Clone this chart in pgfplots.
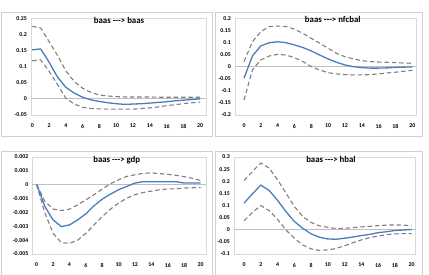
\documentclass[border=0pt]{standalone}
\usepackage{pgfplots}
\pgfplotsset{compat=1.18}
\usepackage{pgfplotstable}
\usepackage{fontspec}
\setmainfont{Carlito}

\definecolor{irfblue}{HTML}{4A7EBB}
\definecolor{bandgray}{HTML}{7F7F7F}
\definecolor{framegray}{HTML}{D9D9D9}
\definecolor{zerogray}{HTML}{BFBFBF}
\definecolor{boxgray}{HTML}{D0D0D0}

% step, response, upper band, lower band
\pgfplotstableread{
x mid up lo
0 0.152 0.225 0.118
1 0.155 0.220 0.121
2 0.114 0.178 0.086
3 0.068 0.135 0.045
4 0.036 0.087 0.002
5 0.018 0.054 -0.016
6 0.005 0.033 -0.026
7 -0.003 0.020 -0.030
8 -0.008 0.012 -0.031
9 -0.012 0.009 -0.032
10 -0.015 0.007 -0.032
11 -0.017 0.006 -0.032
12 -0.016 0.006 -0.032
13 -0.015 0.006 -0.030
14 -0.013 0.006 -0.028
15 -0.011 0.005 -0.025
16 -0.009 0.005 -0.021
17 -0.006 0.005 -0.018
18 -0.004 0.005 -0.015
19 -0.002 0.005 -0.012
20 0.000 0.005 -0.010
}\baas

\pgfplotstableread{
x mid up lo
0 -0.048 0.021 -0.138
1 0.044 0.103 -0.014
2 0.086 0.145 0.028
3 0.099 0.166 0.044
4 0.103 0.168 0.051
5 0.099 0.166 0.048
6 0.090 0.155 0.037
7 0.079 0.138 0.021
8 0.065 0.117 0.000
9 0.048 0.097 -0.014
10 0.032 0.076 -0.025
11 0.018 0.055 -0.030
12 0.007 0.041 -0.033
13 0.000 0.032 -0.034
14 -0.004 0.025 -0.034
15 -0.006 0.021 -0.033
16 -0.006 0.019 -0.030
17 -0.005 0.018 -0.026
18 -0.003 0.017 -0.023
19 -0.002 0.015 -0.019
20 -0.001 0.014 -0.015
}\nfcbal

\pgfplotstableread{
x mid up lo
0 0.00000 0.00000 0.00000
1 -0.00157 -0.00120 -0.00205
2 -0.00254 -0.00176 -0.00350
3 -0.00302 -0.00186 -0.00418
4 -0.00290 -0.00176 -0.00423
5 -0.00254 -0.00145 -0.00400
6 -0.00210 -0.00109 -0.00350
7 -0.00152 -0.00072 -0.00290
8 -0.00104 -0.00031 -0.00230
9 -0.00068 0.00007 -0.00176
10 -0.00036 0.00036 -0.00133
11 -0.00012 0.00060 -0.00097
12 0.00012 0.00072 -0.00072
13 0.00022 0.00082 -0.00056
14 0.00022 0.00085 -0.00046
15 0.00022 0.00080 -0.00036
16 0.00022 0.00075 -0.00031
17 0.00022 0.00068 -0.00029
18 0.00012 0.00058 -0.00024
19 0.00012 0.00046 -0.00022
20 0.00012 0.00031 -0.00020
}\gdp

\pgfplotstableread{
x mid up lo
0 0.110 0.203 0.037
1 0.148 0.240 0.071
2 0.184 0.275 0.100
3 0.162 0.254 0.079
4 0.121 0.206 0.043
5 0.075 0.151 -0.001
6 0.034 0.096 -0.035
7 0.006 0.054 -0.063
8 -0.017 0.030 -0.079
9 -0.031 0.016 -0.085
10 -0.038 0.010 -0.083
11 -0.039 0.005 -0.077
12 -0.035 0.006 -0.066
13 -0.030 0.009 -0.053
14 -0.024 0.012 -0.042
15 -0.019 0.014 -0.032
16 -0.012 0.017 -0.026
17 -0.008 0.019 -0.020
18 -0.003 0.020 -0.017
19 -0.001 0.019 -0.016
20 0.001 0.017 -0.016
}\hbal

% arrow written with plain hyphens (no dash ligatures)
\newcommand{\irfarrow}{{-}{-}{-}{>}}

\pgfplotsset{
  irfpanel/.style={
    scale only axis,
    anchor=south west,
    axis line style={draw=framegray, line width=0.8pt},
    major tick length=0pt,
    scaled y ticks=false,
    xtick={0,2,...,20},
    xticklabels={0,2,4,6,8,10,12,14,16,18,20},
    tick label style={font=\bfseries\fontsize{5.9}{6.5}\selectfont, text=black},
    xticklabel style={yshift=-5.5pt},
    yticklabel style={xshift=-0.5pt},
    extra y ticks={0},
    extra y tick labels={},
    extra y tick style={grid=major, major grid style={zerogray, line width=0.8pt}},
    title style={font=\bfseries\fontsize{8.8}{9}\selectfont, anchor=base, text=black},
  },
  irfmid/.style={irfblue, line width=1.3pt, no markers},
  irfband/.style={bandgray, line width=1.1pt, dash pattern=on 4.5pt off 2.8pt, no markers},
}

\begin{document}
\begin{tikzpicture}
\path[use as bounding box] (0pt,0pt) rectangle (429pt,274pt);

% chart area borders
\draw[boxgray, line width=0.8pt] (1pt,138pt) rectangle (212pt,262pt);
\draw[boxgray, line width=0.8pt] (215pt,138pt) rectangle (422pt,262pt);
\draw[boxgray, line width=0.8pt] (1pt,-3pt) -- (1pt,123pt) -- (212pt,123pt) -- (212pt,-3pt);
\draw[boxgray, line width=0.8pt] (215pt,-3pt) -- (215pt,123pt) -- (422pt,123pt) -- (422pt,-3pt);

% baas -> baas
\begin{axis}[irfpanel, at={(31pt,159pt)}, width=175pt, height=96.7pt,
  xmin=-0.15, xmax=20.7, ymin=-0.05, ymax=0.25,
  ytick={-0.05,0,0.05,0.1,0.15,0.2,0.25},
  yticklabels={-0.05,0,0.05,0.1,0.15,0.2,0.25},
  title={baas \irfarrow{} baas}, title style={at={(0.503,0.886)}}]
\addplot[irfband] table[x=x,y=up] {\baas};
\addplot[irfband] table[x=x,y=lo] {\baas};
\addplot[irfmid] table[x=x,y=mid] {\baas};
\end{axis}

% baas -> nfcbal
\begin{axis}[irfpanel, at={(235pt,159pt)}, width=181pt, height=96.7pt,
  xmin=-1.07, xmax=20.44, ymin=-0.2, ymax=0.2,
  ytick={-0.2,-0.15,-0.1,-0.05,0,0.05,0.1,0.15,0.2},
  yticklabels={-0.2,-0.15,-0.1,-0.05,0,0.05,0.1,0.15,0.2},
  title={baas \irfarrow{} nfcbal}, title style={at={(0.54,0.893)}}]
\addplot[irfband] table[x=x,y=up] {\nfcbal};
\addplot[irfband] table[x=x,y=lo] {\nfcbal};
\addplot[irfmid] table[x=x,y=mid] {\nfcbal};
\end{axis}

% baas -> gdp
\begin{axis}[irfpanel, at={(32.3pt,20pt)}, width=173.7pt, height=97pt,
  xmin=-0.54, xmax=20.67, ymin=-0.005, ymax=0.002,
  ytick={-0.005,-0.004,-0.003,-0.002,-0.001,0,0.001,0.002},
  yticklabels={-0.005,-0.004,-0.003,-0.002,-0.001,0,0.001,0.002},
  title={baas \irfarrow{} gdp}, title style={at={(0.486,0.88)}}]
\addplot[irfband] table[x=x,y=up] {\gdp};
\addplot[irfband] table[x=x,y=lo] {\gdp};
\addplot[irfmid] table[x=x,y=mid] {\gdp};
\end{axis}

% baas -> hbal
\begin{axis}[irfpanel, at={(234pt,20pt)}, width=181.5pt, height=97pt,
  xmin=-1.2, xmax=20.45, ymin=-0.1, ymax=0.3,
  ytick={-0.1,-0.05,0,0.05,0.1,0.15,0.2,0.25,0.3},
  yticklabels={-0.1,-0.05,0,0.05,0.1,0.15,0.2,0.25,0.3},
  title={baas \irfarrow{} hbal}, title style={at={(0.534,0.88)}}]
\addplot[irfband] table[x=x,y=up] {\hbal};
\addplot[irfband] table[x=x,y=lo] {\hbal};
\addplot[irfmid] table[x=x,y=mid] {\hbal};
\end{axis}
\end{tikzpicture}
\end{document}
